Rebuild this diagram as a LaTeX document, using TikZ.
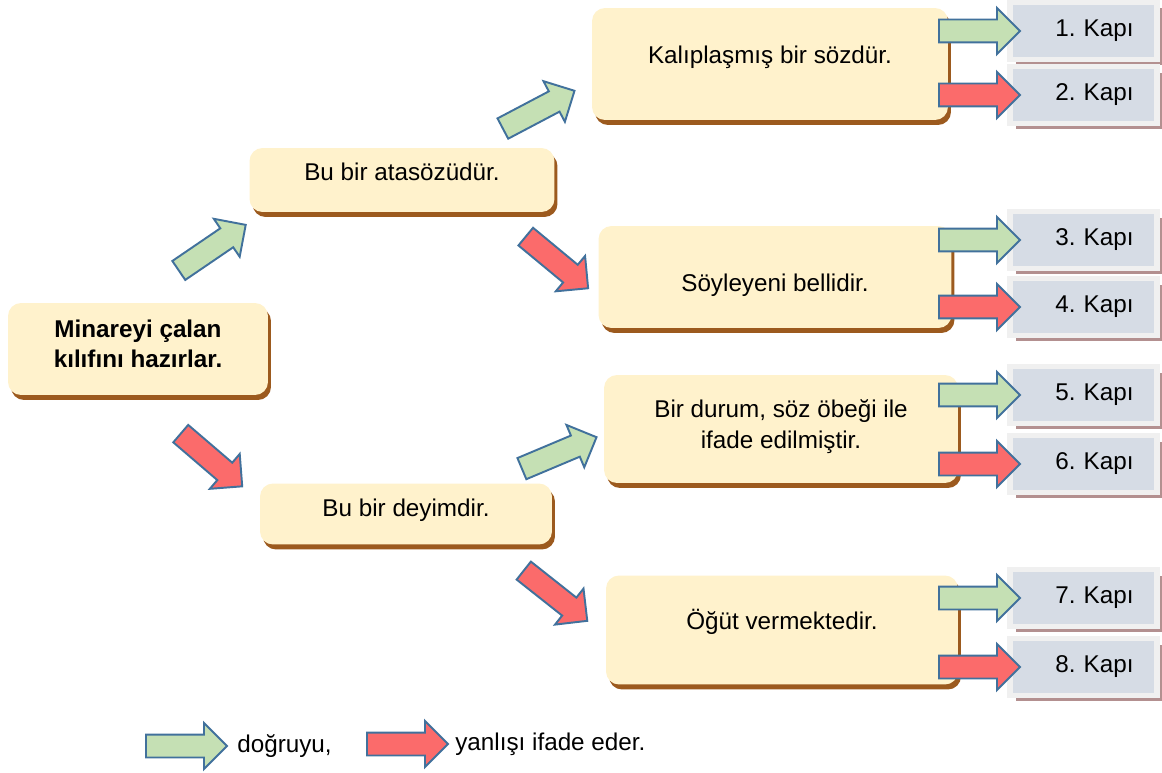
\documentclass[tikz,border=0pt]{standalone}
\usepackage{fontspec}
\setmainfont{Liberation Sans}
\usetikzlibrary{shapes.arrows,shadows,calc}
\definecolor{boxfill}{HTML}{FFF2CC}
\definecolor{boxshadow}{HTML}{9C5A1E}
\definecolor{okfill}{HTML}{C5E0B4}
\definecolor{nofill}{HTML}{FB6B6B}
\definecolor{arrowline}{HTML}{41719C}
\definecolor{doorfill}{HTML}{D6DCE5}
\definecolor{doorframe}{HTML}{F0F0F0}
\definecolor{doorshadow}{HTML}{B39090}
\frenchspacing
\begin{document}
\begin{tikzpicture}[x=0.02cm,y=-0.02cm]
	\tikzstyle{box} = [rounded corners=0.26cm,fill=boxfill,align=center,font=\fontsize{13.8}{17.5}\selectfont,drop shadow={shadow xshift=0.06cm,shadow yshift=-0.1cm,fill=boxshadow,opacity=1}]
	\tikzstyle{door} = [fill=doorfill,draw=doorframe,line width=3.4pt,minimum width=2.94cm,minimum height=1.14cm,text width=2cm,inner xsep=0.47cm,align=right,font=\fontsize{13.8}{17.5}\selectfont,drop shadow={shadow xshift=0.11cm,shadow yshift=-0.12cm,fill=doorshadow,opacity=1}]
	\tikzstyle{blockarrow} = [single arrow,draw=arrowline,line width=1.1pt,minimum height=1.62cm,inner xsep=0pt,inner ysep=0.21cm,single arrow head extend=0.23cm,anchor=tail]
	\tikzstyle{okarrow} = [blockarrow,fill=okfill]
	\tikzstyle{noarrow} = [blockarrow,fill=nofill]
	\tikzstyle{key} = [anchor=west,inner sep=0pt,font=\fontsize{13.8}{17.5}\selectfont]
	\useasboundingbox (0,0) rectangle (1162,773);
	% statements
	\node[box,minimum width=5.2cm,minimum height=1.84cm,text depth=6pt] (root) at (138,349) {\textbf{Minareyi çalan}\\\textbf{kılıfını hazırlar.}};
	\node[box,minimum width=6.1cm,minimum height=1.28cm,text depth=9pt] (atasozu) at (402,180) {Bu bir atasözüdür.};
	\node[box,minimum width=5.84cm,minimum height=1.22cm,text depth=7pt] (deyim) at (406,514) {Bu bir deyimdir.};
	\node[box,minimum width=7.12cm,minimum height=2.24cm,text depth=11pt] (kalip) at (770,64) {Kalıplaşmış bir sözdür.};
	\node[box,minimum width=7.06cm,minimum height=2.04cm,text height=19pt] (soyleyen) at (775,277) {Söyleyeni bellidir.};
	\node[box,minimum width=7.08cm,minimum height=2.16cm,text depth=6pt] (durum) at (781,429) {Bir durum, söz öbeği ile\\ifade edilmiştir.};
	\node[box,minimum width=7.04cm,minimum height=2.18cm,text depth=12pt] (ogut) at (782,630) {Öğüt vermektedir.};
	% doors
	\foreach \i/\y in {1/31,2/95,3/240,4/307,5/395,6/464,7/598,8/667}
		\node[door] (door\i) at (1083.5,\y) {\i. Kapı};
	% arrows between statements
	\coordinate (t1) at (178,271); \coordinate (h1) at (247,224);
	\coordinate (t2) at (180,433); \coordinate (h2) at (243,487);
	\coordinate (t3) at (502,129); \coordinate (h3) at (576,90);
	\coordinate (t4) at (525,236); \coordinate (h4) at (589,289);
	\coordinate (t5) at (521,469); \coordinate (h5) at (597,437);
	\coordinate (t6) at (523,570); \coordinate (h6) at (590,623);
	\foreach \i in {1,3,5}
		\path (t\i) -- node[okarrow,sloped,pos=0] (step\i) {} (h\i);
	\foreach \i in {2,4,6}
		\path (t\i) -- node[noarrow,sloped,pos=0] (step\i) {} (h\i);
	% arrows to doors
	\coordinate (gate) at (938,0);
	\foreach \i in {1,3,5,7}
		\path (gate |- door\i.west) -- node[okarrow,sloped,pos=0] (ok\i) {} ($(door\i.west)+(11,0)$);
	\foreach \i in {2,4,6,8}
		\path (gate |- door\i.west) -- node[noarrow,sloped,pos=0] (no\i) {} ($(door\i.west)+(11,0)$);
	% key
	\node[okarrow] (okkey) at (145,746) {};
	\node[key] (oktext) at (237,746) {doğruyu,};
	\node[noarrow] (nokey) at (366,744) {};
	\node[key] (notext) at (455,744) {yanlışı ifade eder.};
\end{tikzpicture}
\end{document}
